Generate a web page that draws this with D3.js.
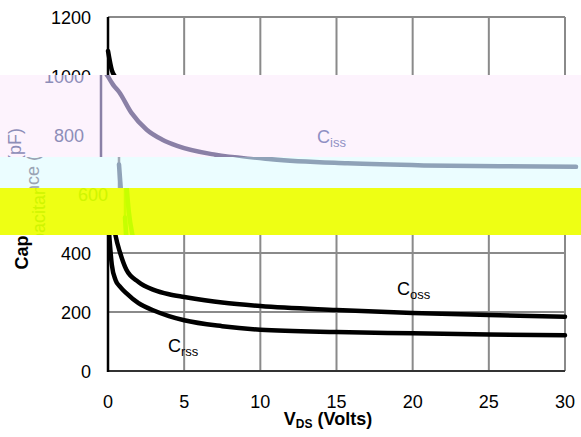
<!DOCTYPE html>
<html><head><meta charset="utf-8">
<script src="https://cdn.jsdelivr.net/npm/d3@7"></script>
<style>html,body{margin:0;padding:0;background:#fff}svg{display:block;font-family:"Liberation Sans",Arial,sans-serif}</style>
</head><body>
<svg id="c" width="581" height="437"></svg>
<script>
// ---- data ----
const xTicks = [0, 5, 10, 15, 20, 25, 30];
const yTicks = [0, 200, 400, 600, 800, 1000, 1200];
const vds = [0, 0.25, 0.5, 0.8, 1.2, 2, 3, 4, 5, 7.5, 10, 15, 20, 25, 30];
const ciss = [1085, 1020, 995, 970, 945, 875, 818, 785, 763, 733, 718, 704, 697, 694, 692];
const coss = [700, 540, 458, 400, 344, 302, 275, 260, 251, 232, 220, 207, 197, 190, 184];
const crss = [520, 360, 308, 285, 264, 230, 205, 186, 172, 152, 140, 132, 128, 124, 121];
const seriesSubs = ["iss", "oss", "rss"];
const seriesValues = [ciss, coss, crss];

const svg = d3.select("#c");
const x = d3.scaleLinear().domain([0, 30]).range([108, 565]);
const y = d3.scaleLinear().domain([0, 1200]).range([371, 17]);
const line = d3.line().x(d => x(d[0])).y(d => y(d[1])).curve(d3.curveMonotoneX);
const labelAnchors = [[324, 143], [397, 295], [168, 352]];

function drawContent(g, o) {
  if (o.grid) {
    g.append("g").selectAll("line").data(xTicks.slice(1)).join("line")
      .attr("x1", d => x(d)).attr("x2", d => x(d)).attr("y1", y(1200)).attr("y2", y(0))
      .attr("stroke", "#8a8a8a").attr("stroke-width", 2);
    g.append("g").selectAll("line").data(yTicks.slice(1)).join("line")
      .attr("x1", x(0)).attr("x2", x(30)).attr("y1", d => y(d)).attr("y2", d => y(d))
      .attr("stroke", "#8a8a8a").attr("stroke-width", 2);
    g.append("line").attr("x1", x(0)).attr("x2", x(30)).attr("y1", y(0)).attr("y2", y(0))
      .attr("stroke", "#333").attr("stroke-width", 2);
  }
  g.append("line").attr("x1", x(0)).attr("x2", x(0)).attr("y1", y(1200)).attr("y2", y(0) + 1)
    .attr("stroke", o.axis).attr("stroke-width", 2.5);
  g.append("g").selectAll("text").data(yTicks).join("text")
    .attr("x", 91).attr("y", d => y(d) + 6.5).attr("text-anchor", "end")
    .attr("font-size", 18).attr("fill", o.text).text(d => d);
  g.append("g").selectAll("text").data(xTicks).join("text")
    .attr("x", d => x(d)).attr("y", 408).attr("text-anchor", "middle")
    .attr("font-size", 18).attr("fill", o.text).text(d => d);
  const xt = g.append("text").attr("x", 328).attr("y", 425).attr("text-anchor", "middle")
    .attr("font-size", 18).attr("font-weight", o.weight).attr("fill", o.text);
  xt.append("tspan").text("V");
  xt.append("tspan").attr("font-size", 12).attr("dy", 3).text("DS");
  xt.append("tspan").attr("dy", -3).text(" (Volts)");
  g.append("text").attr("transform", "translate(28,197) rotate(-90)").attr("text-anchor", "middle")
    .attr("font-size", 18).attr("font-weight", o.weight).attr("fill", o.text).text("Capacitance (pF)");
  seriesValues.forEach(vals => {
    g.append("path").datum(vds.map((v, i) => [v, vals[i]]))
      .attr("d", line).attr("fill", "none").attr("stroke", o.curve)
      .attr("stroke-width", 4.5).attr("stroke-linecap", "round");
  });
  seriesSubs.forEach((s, i) => {
    const t = g.append("text").attr("x", labelAnchors[i][0]).attr("y", labelAnchors[i][1])
      .attr("font-size", 18).attr("fill", o.label);
    t.append("tspan").text("C");
    t.append("tspan").attr("font-size", 13).attr("dy", 4).text(s);
  });
}

// base chart
const base = svg.append("g");
drawContent(base, {grid: true, axis: "#000", text: "#000", weight: "bold", curve: "#000", label: "#000"});

// tinted bands
const bands = [
  {y0: 75, y1: 157, dx: -7, bg: "#fdf3fd", curve: "#8a80a6", axis: "#8a80a6", text: "#8d8db8", label: "#8f90c4"},
  {y0: 157, y1: 188, dx: 11, bg: "#ebfdff", curve: "#8fa2b8", axis: "#a0aab6", text: "#9aa4b4", label: "#9aa4b4"},
  {y0: 188, y1: 235, dx: 17, bg: "#eeff14", curve: "#c6ff00", axis: "#d0ff00", text: "#d0f500", label: "#d0f500"}
];
const bandTop = d3.min(bands, b => b.y0), bandBottom = d3.max(bands, b => b.y1);
// remove base texts that lie entirely under the bands (they are hidden there)
base.selectAll("text").each(function () {
  const r = this.getBoundingClientRect();
  if (r.top >= bandTop && r.bottom <= bandBottom) d3.select(this).remove();
});
const defs = svg.append("defs");
bands.forEach((b, i) => {
  defs.append("clipPath").attr("id", "bc" + i).append("rect")
    .attr("x", 0).attr("y", b.y0).attr("width", 581).attr("height", b.y1 - b.y0);
  const g = svg.append("g").attr("clip-path", `url(#bc${i})`);
  g.append("rect").attr("x", 0).attr("y", b.y0).attr("width", 581).attr("height", b.y1 - b.y0).attr("fill", b.bg);
  const inner = g.append("g").attr("transform", `translate(${b.dx},0)`);
  drawContent(inner, {grid: false, axis: b.axis, text: b.text, weight: "normal", curve: b.curve, label: b.label});
  inner.selectAll("text").each(function () {
    const r = this.getBoundingClientRect();
    if (r.bottom <= b.y0 || r.top >= b.y1) d3.select(this).remove();
  });
});
</script>
</body></html>
